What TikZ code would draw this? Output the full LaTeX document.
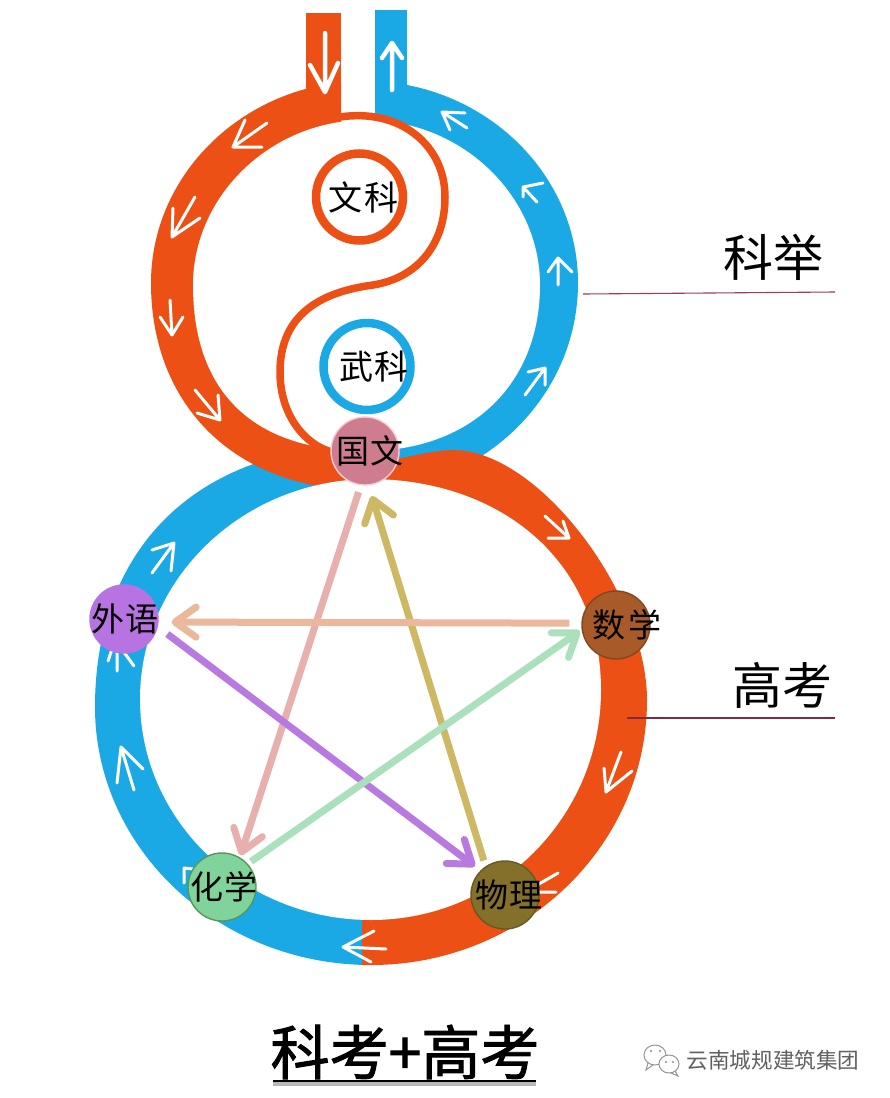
\documentclass[tikz,border=0pt]{standalone}
\usepackage{fontspec}
\setmainfont{Noto Sans CJK SC}
\newfontfamily\titlefont[FakeBold=1.6]{Noto Sans CJK SC}
\usetikzlibrary{arrows.meta}
\definecolor{orng}{HTML}{EC5014}
\definecolor{blu}{HTML}{1BA9E6}
\definecolor{gwfill}{RGB}{207,124,142}
\definecolor{gwedge}{RGB}{245,205,215}
\definecolor{wyfill}{RGB}{184,115,226}
\definecolor{sxfill}{RGB}{168,90,40}
\definecolor{sxedge}{RGB}{128,72,36}
\definecolor{hxfill}{RGB}{127,211,155}
\definecolor{hxedge}{RGB}{88,150,90}
\definecolor{wlfill}{RGB}{132,112,42}
\definecolor{wledge}{RGB}{100,90,40}
\definecolor{pinkline}{RGB}{232,176,172}
\definecolor{goldline}{RGB}{205,184,99}
\definecolor{peachline}{RGB}{235,184,156}
\definecolor{purpline}{RGB}{184,122,224}
\definecolor{greenline}{RGB}{171,224,188}
\definecolor{leadA}{RGB}{160,60,85}
\definecolor{leadB}{RGB}{130,40,70}
\newcommand{\fsz}[1]{\fontsize{#1}{#1}\selectfont}
\newcommand{\nt}[2]{\makebox[0pt][c]{\hspace{#1}#2}}
\tikzset{
  whitearrow/.style={draw=white,line width=3pt,line cap=round,line join=round},
  whitethick/.style={whitearrow,line width=4.5pt},
  subject/.style={circle,minimum size=68pt,inner sep=0pt,line width=1.4pt,font=\fsz{33}},
  ringnode/.style={circle,minimum size=87pt,inner sep=0pt,line width=8.5pt,font=\fsz{34}},
  star/.style={line width=7pt,-{Straight Barb[length=21pt,width=30pt,line width=7pt,round]}},
  leader/.style={draw=#1,line width=1.1pt},
  sidelabel/.style={font=\fsz{50},inner sep=0pt},
  ycurve/.style={draw=orng,line width=7.5pt,line cap=butt}
}
\def\upperouter{(151,283) .. controls (151,172) and (247,81) .. (365,81) .. controls (482,81) and (578,172) .. (578,283) .. controls (578,397) and (482,490) .. (365,490) .. controls (237,490) and (151,407) .. (151,283) -- cycle}
\begin{document}
\begin{tikzpicture}[x=1pt,y=-1pt]
\useasboundingbox (0,0) rectangle (890,1098);
\fill[white] (0,0) rectangle (890,1098);
% lower blue band (outer shape)
\fill[blu] (371,965) .. controls (219,965) and (95,849) .. (95,707) .. controls (95,545) and (200,445) .. (371,445) -- cycle;
% upper blue band + stub
\begin{scope}
  \clip (375,0) rectangle (890,300) (372,300) rectangle (890,600);
  \fill[blu] \upperouter;
\end{scope}
\fill[blu] (375,10) rectangle (407,110);
% upper orange band + stub
\begin{scope}
  \clip (0,0) rectangle (341,300) (0,300) rectangle (365,600);
  \fill[orng] \upperouter;
\end{scope}
\fill[orng] (306,13) rectangle (341,110);
% upper interior
\fill[white] (193,285) .. controls (193,196) and (271,120) .. (366,120) .. controls (462,120) and (540,196) .. (540,285) .. controls (540,385) and (470,451) .. (366,451) .. controls (254,451) and (193,393) .. (193,285) -- cycle;
% lower orange band (outer shape)
\fill[orng] (362,464) .. controls (395,462) and (425,450) .. (455,450) .. controls (540,452) and (647,595) .. (647,700) .. controls (647,846) and (523,965) .. (371,965) -- (362,965) -- cycle;
% lower interior
\fill[white] (140,699) .. controls (140,578) and (244,479) .. (371,479) .. controls (500,480) and (601,560) .. (601,690) .. controls (601,817) and (498,920) .. (371,920) .. controls (244,920) and (140,821) .. (140,699) -- cycle;
% yin-yang curve
\draw[ycurve] (340,117) .. controls (400,108) and (445,145) .. (445,197) .. controls (445,245) and (417,278) .. (373,285) .. controls (320,292) and (280,315) .. (280,372) .. controls (280,415) and (305,445) .. (332,452);
% white flow arrows
\draw[whitethick] (325,33)--(325,92) (310,65)--(325,92)--(338,63);
\draw[whitethick] (392,90)--(392,43) (382,58)--(392,43)--(402,58);
\draw[whitearrow] (267,123)--(233,147) (245,120)--(233,147)--(262,147);
\draw[whitearrow] (195,197)--(172,237) (173,208)--(172,237)--(200,218);
\draw[whitearrow] (170,300)--(172,335) (160,317)--(172,335)--(183,317);
\draw[whitearrow] (195,390)--(220,420) (197,413)--(220,420)--(218,395);
\draw[whitearrow] (467,128)--(442,112) (465,113)--(442,112)--(450,130);
\draw[whitearrow] (537,202)--(523,187) (543,183)--(523,187)--(523,197);
\draw[whitearrow] (558,285)--(558,258) (548,272)--(558,258)--(572,272);
\draw[whitearrow] (525,395)--(545,368) (528,372)--(545,368)--(545,385);
\draw[whitearrow] (545,516)--(569,538) (548,538)--(569,538)--(563,521);
\draw[whitearrow] (621,752)--(606,792) (604,768)--(606,792)--(632,771);
\draw[whitearrow] (556,892)--(525,892) (558,873)--(525,892);
\draw[whitearrow] (386,949)--(343,947) (374,931)--(343,947)--(371,962);
\draw[whitearrow] (117,671)--(117,640) (108,661)--(115,640)--(134,666);
\draw[whitearrow] (134,790)--(121,747) (117,783)--(121,747)--(143,769);
\draw[whitearrow] (152,573)--(174,543) (152,550)--(174,543)--(171,571);
\draw[whitearrow] (184,883)--(184,868)--(193,869);
% subject and stream nodes
\node[ringnode,draw=orng] (wk) at (359.5,197) {\nt{8pt}{文\hspace{3pt}科}};
\node[ringnode,draw=blu] (bk) at (367,366.5) {\nt{14pt}{武\hspace{2pt}科}};
\node[subject,fill=gwfill,draw=gwedge] (gw) at (365,451) {\nt{10pt}{国\hspace{2pt}文}};
\node[subject,fill=wyfill,draw=wyfill] (wy) at (124,619) {\nt{2pt}{外\hspace{2pt}语}};
\node[subject,fill=sxfill,draw=sxedge] (sx) at (616,625) {\nt{22pt}{数\hspace{3pt}学}};
\node[subject,fill=hxfill,draw=hxedge] (hx) at (222,887) {\nt{4pt}{化\hspace{1pt}学}};
\node[subject,fill=wlfill,draw=wledge] (wl) at (505,895) {\nt{8pt}{物\hspace{1pt}理}};
% pentagram
\draw[star,draw=pinkline,shorten <=7pt,shorten >=2pt] (gw.-97) -- (hx.59);
\draw[star,draw=goldline,shorten <=6pt,shorten >=11pt] (wl.124) -- (gw.-84);
\draw[star,draw=peachline,shorten <=12pt,shorten >=13pt] (sx.177) -- (wy.-5);
\draw[star,draw=purpline,shorten <=12pt,shorten >=7pt] (wy.-13) -- (wl.135);
\draw[star,draw=greenline,shorten <=4pt,shorten >=2pt] (hx.42) -- (sx.-172);
% side labels
\node[sidelabel] (kj) at (773,257) {科举};
\node[sidelabel] (gk) at (782,685) {高考};
\coordinate (kjL) at (583,294);
\coordinate (kjR) at (835,292);
\coordinate (gkL) at (627,718);
\coordinate (gkR) at (835,718);
\draw[leader=leadA] (kjL) -- (kjR);
\draw[leader=leadB] (gkL) -- (gkR);
% title
\node[font=\titlefont\fsz{59},inner sep=0pt] (title) at (405,1052) {科考+高考};
\coordinate (ulL) at (273,1081);
\coordinate (ulR) at (536,1081);
\draw[line width=5pt,black!28] ([yshift=-2pt]ulL) -- ([yshift=-2pt]ulR);
\draw[line width=2.6pt,black] (ulL) -- (ulR);
% watermark
\begin{scope}[draw=black!42,line width=1pt]
  \draw[fill=white] (655,1055) ellipse (11pt and 10pt);
  \draw (648,1063) -- (646,1070) -- (653,1065);
  \draw[fill=white] (669,1064) ellipse (10pt and 9pt);
  \draw (675,1071) -- (678,1076) -- (671,1073);
  \fill[black!45] (651,1051) circle (1.2pt) (660,1051) circle (1.2pt) (666,1062) circle (1.1pt) (673,1062) circle (1.1pt);
\end{scope}
\node[font=\fsz{21.6},text=black!62,inner sep=0pt] (wm) at (773,1060) {云南城规建筑集团};
\end{tikzpicture}
\end{document}
